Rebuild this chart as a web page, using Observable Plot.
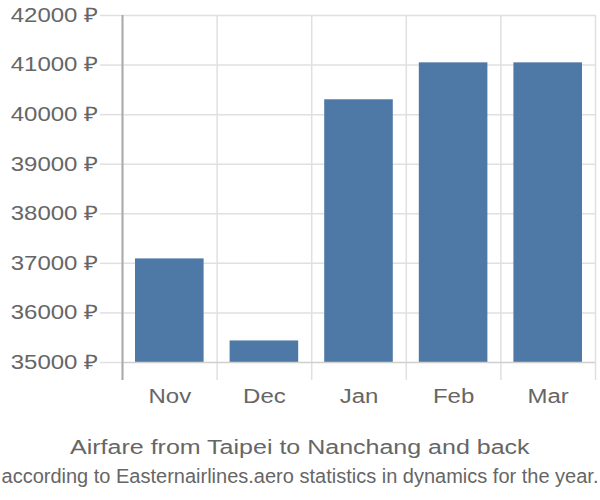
<!DOCTYPE html>
<html>
<head>
<meta charset="utf-8">
<script src="https://cdn.jsdelivr.net/npm/d3@7"></script>
<script src="https://cdn.jsdelivr.net/npm/@observablehq/plot@0.6"></script>
<style>
  body { margin: 0; background: #fff; font-family: "Liberation Sans", Arial, sans-serif; }
  #wrap { width: 600px; }
  .title { text-align: center; color: #666; font-size: 20px; line-height: 24px; margin-top: 15px; }
  .title span { display: inline-block; transform: scaleX(1.25); transform-origin: center; }
  .sub { text-align: center; color: #666; font-size: 20px; line-height: 22px; margin-top: 6px; white-space: nowrap; }
  .sub span { display: inline-block; }
</style>
</head>
<body>
<div id="wrap"></div>
<script>
const months = ["Nov", "Dec", "Jan", "Feb", "Mar"];
const prices = [37090, 35435, 40300, 41045, 41045];
const yTicks = [35000, 36000, 37000, 38000, 39000, 40000, 41000, 42000];
const baseValue = 35000;
const titleText = "Airfare from Taipei to Nanchang and back";
const subtitleText = "according to Easternairlines.aero statistics in dynamics for the year.";

const data = months.map((m, i) => ({month: m, price: prices[i]}));

const W = 600, H = 420, mL = 122, mR = 5, mT = 15, mB = 40;
const step = (W - mL - mR) / months.length;
const grid = "#e0e0e0";

const chart = Plot.plot({
  width: W,
  height: H,
  marginLeft: mL,
  marginRight: mR,
  marginTop: mT,
  marginBottom: mB,
  style: {fontFamily: "'Liberation Sans', Arial, sans-serif", color: "#666", background: "#fff"},
  x: {type: "band", domain: months, padding: 0, round: false},
  y: {domain: [34637, 42000]},
  marks: [
    Plot.ruleY(yTicks.filter(t => t !== baseValue), {stroke: grid, strokeWidth: 1.5, strokeOpacity: 1}),
    Plot.ruleX(months, {x: d => d, dx: -step / 2, stroke: grid, strokeWidth: 1.5, strokeOpacity: 1}),
    Plot.ruleX(months.slice(-1), {x: d => d, dx: step / 2, stroke: grid, strokeWidth: 1.5, strokeOpacity: 1}),
    Plot.axisY({ticks: yTicks, tickFormat: d => d + " ₽", tickSize: 22, tickPadding: 2, fontSize: 20, stroke: grid, strokeWidth: 1.5, strokeOpacity: 1, color: "#666", label: null}),
    Plot.barY(data, {x: "month", y1: baseValue, y2: "price", fill: "#4e79a7", insetLeft: 13, insetRight: 13}),
    Plot.ruleY([baseValue], {stroke: "#cfcfcf", strokeWidth: 1.5, strokeOpacity: 1}),
    Plot.ruleX(months.slice(0, 1), {x: d => d, dx: -step / 2, stroke: "#aaa", strokeWidth: 2, strokeOpacity: 1}),
    Plot.axisX({tickSize: 0, tickPadding: 8, fontSize: 20, color: "#666", label: null})
  ]
});

const wrap = document.getElementById("wrap");
wrap.appendChild(chart);

// widen the axis label glyphs to match the reference's wide lettering
chart.querySelectorAll('g[aria-label$="tick label"] text').forEach(el => {
  const len = el.getComputedTextLength();
  el.setAttribute("textLength", (len * 1.2).toFixed(1));
  el.setAttribute("lengthAdjust", "spacingAndGlyphs");
});

const t = document.createElement("div");
t.className = "title";
const ts = document.createElement("span");
ts.textContent = titleText;
t.appendChild(ts);
wrap.appendChild(t);
const s = document.createElement("div");
s.className = "sub";
const ss = document.createElement("span");
ss.textContent = subtitleText;
s.appendChild(ss);
wrap.appendChild(s);
</script>
</body>
</html>
